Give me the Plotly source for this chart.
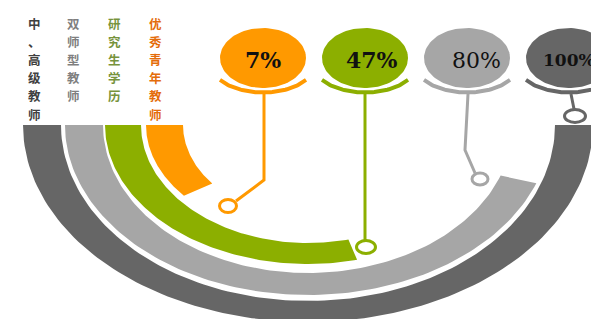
import numpy as np
import plotly.graph_objects as go

# ---------------- data ----------------
categories = ["优秀青年教师", "研究生学历", "双师型教师", "中、高级教师"]
values = [7, 47, 80, 100]
value_labels = ["7%", "47%", "80%", "100%"]
# how far each ring is drawn in the original design (degrees of the half ring)
ring_extent_deg = [40, 104, 160, 180]

# ---------------- styles ----------------
colors = ["#FF9900", "#8CAF00", "#A6A6A6", "#666666"]
label_colors = ["#E46C0A", "#77933C", "#7F7F7F", "#404040"]

W, H = 599, 319
CX, CY = 300, 117
# ring radii (outer rx, inner rx, outer ry, inner ry), inner ring first
ring_geom = [
    (162, 125, 110, 91),
    (203, 167, 139, 118),
    (243, 205, 170, 148),
    (285, 247, 197, 176),
]

fig = go.Figure()


def ring_path(rxo, rxi, ryo, ryi, sweep, n=120):
    t = np.radians(np.linspace(180, 180 - sweep, n))
    xo = CX + rxo * np.cos(t)
    yo = CY + ryo * np.sin(t)
    xi = CX + rxi * np.cos(t[::-1])
    yi = CY + ryi * np.sin(t[::-1])
    x = np.concatenate([xo, xi, xo[:1]])
    y = np.concatenate([yo, yi, yo[:1]])
    return x, y


# rings (draw outer first)
for i in reversed(range(len(values))):
    rxo, rxi, ryo, ryi = ring_geom[i]
    x, y = ring_path(rxo, rxi, ryo, ryi, ring_extent_deg[i])
    fig.add_trace(go.Scatter(x=x, y=y, mode="lines", fill="toself",
                             fillcolor=colors[i], line=dict(width=0, color=colors[i]),
                             hoverinfo="skip", showlegend=False))

# value bubbles along the top
BX0, BDX, BY = 255, 102, 50
BRX, BRY = 43, 30
connectors = [
    [(256, 86), (256, 172), (228, 193)],
    [(357, 86), (357, 232)],
    [(460, 86), (457, 142), (467, 165)],
    [(563, 86), (566, 101)],
]
link_rings = [(220, 198, 8.5, 6.5), (358, 239, 9.5, 6.5), (472, 171, 8, 6), (567, 108, 10.5, 6.5)]
text_dx = [0, 7, 9, 0]
text_size = [22, 22, 22, 17]

for i, v in enumerate(values):
    cx = BX0 + i * BDX
    t = np.radians(np.linspace(0, 360, 100))
    fig.add_trace(go.Scatter(x=cx + BRX * np.cos(t), y=BY + BRY * np.sin(t), mode="lines",
                             fill="toself", fillcolor=colors[i], line=dict(width=0, color=colors[i]),
                             hoverinfo="skip", showlegend=False))
    # cup under the bubble
    tc = np.radians(np.linspace(35, 145, 60))
    fig.add_trace(go.Scatter(x=cx + 52.5 * np.cos(tc), y=55 + 29.5 * np.sin(tc), mode="lines",
                             line=dict(width=4, color=colors[i]),
                             hoverinfo="skip", showlegend=False))
    # connector
    pts = connectors[i]
    fig.add_trace(go.Scatter(x=[p[0] for p in pts], y=[p[1] for p in pts], mode="lines",
                             line=dict(width=3, color=colors[i]),
                             hoverinfo="skip", showlegend=False))
    lx, ly, lrx, lry = link_rings[i]
    fig.add_shape(type="circle", xref="x", yref="y",
                  x0=lx - lrx, x1=lx + lrx, y0=ly - lry, y1=ly + lry,
                  line=dict(color=colors[i], width=3), fillcolor="white", layer="above")
    weight = "<b>%s</b>" if i != 2 else "%s"
    fig.add_annotation(x=cx + text_dx[i], y=BY + 2, text=weight % value_labels[i],
                       showarrow=False, xanchor="center", yanchor="middle",
                       font=dict(family="DejaVu Serif", size=text_size[i], color="#111111"))

# vertical category labels on the left (one character per row)
col_x = [147, 106, 65, 26]
TOP, PITCH = 15, 18.2
for i, cat in enumerate(categories):
    for j, ch in enumerate(cat):
        fig.add_annotation(x=col_x[i], y=TOP + j * PITCH, text="<b>%s</b>" % ch,
                           showarrow=False, xanchor="center", yanchor="middle",
                           borderpad=0,
                           font=dict(family="Noto Sans CJK SC", size=12.5, color=label_colors[i]))

fig.update_layout(
    width=W, height=H,
    margin=dict(l=0, r=0, t=0, b=0),
    paper_bgcolor="white", plot_bgcolor="white",
    xaxis=dict(range=[0, W], visible=False, fixedrange=True),
    yaxis=dict(range=[H, 0], visible=False, fixedrange=True),
    showlegend=False,
)

fig.write_html("out.html")
